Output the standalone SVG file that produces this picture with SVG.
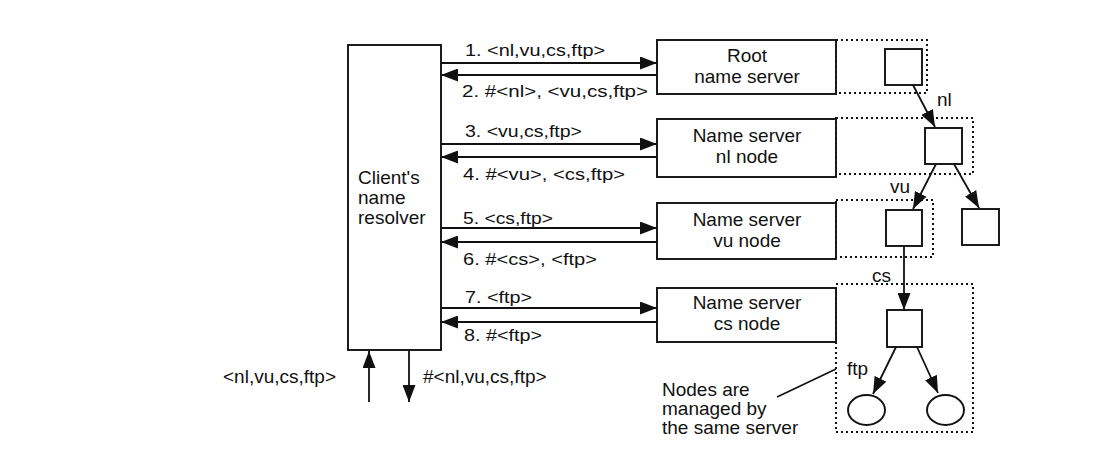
<svg xmlns="http://www.w3.org/2000/svg" width="1114" height="474" viewBox="0 0 1114 474">
<defs>
<style>
text{font-family:"Liberation Sans",Arial,sans-serif;fill:#111;}
.lbl{font-size:16.5px;}
.big{font-size:19px;}
.mid{text-anchor:middle;}
.box{fill:#fff;stroke:#111;stroke-width:1.9;}
.dot{fill:none;stroke:#111;stroke-width:2;stroke-dasharray:2 3;}
.ln{fill:none;stroke:#111;stroke-width:1.7;}
.arr{fill:none;stroke:#111;stroke-width:1.8;marker-end:url(#ah);}
</style>
<marker id="ah" viewBox="0 0 17 13" refX="17" refY="6.5" markerWidth="17" markerHeight="13" orient="auto" markerUnits="userSpaceOnUse">
<path d="M0,0 L17,6.5 L0,13 z" fill="#111"/>
</marker>
</defs>
<rect width="1114" height="474" fill="#fff"/>

<g id="client">
<rect class="box" x="348" y="45" width="93" height="305"/>
<text class="big" x="358" y="184">Client's</text>
<text class="big" x="358" y="204">name</text>
<text class="big" x="358" y="224">resolver</text>
</g>

<g id="root-server">
<rect class="dot" x="836" y="40" width="91" height="53"/>
<rect class="box" x="657" y="40" width="179" height="54"/>
<text class="big mid" x="747" y="62">Root</text>
<text class="big mid" x="747" y="83">name server</text>
<rect class="box" x="885" y="49" width="37" height="36"/>
</g>

<g id="nl-server">
<rect class="dot" x="836" y="118" width="137" height="56"/>
<rect class="box" x="657" y="119" width="179" height="58"/>
<text class="big mid" x="747" y="142">Name server</text>
<text class="big mid" x="747" y="163">nl node</text>
<rect class="box" x="925" y="128" width="37" height="36"/>
</g>

<g id="vu-server">
<rect class="dot" x="836" y="200" width="97" height="57"/>
<rect class="box" x="657" y="203" width="179" height="56"/>
<text class="big mid" x="747" y="226">Name server</text>
<text class="big mid" x="747" y="247">vu node</text>
<rect class="box" x="886" y="210" width="36" height="36"/>
</g>

<g id="other-node">
<rect class="box" x="962" y="209" width="37" height="36"/>
</g>

<g id="cs-server">
<rect class="dot" x="836" y="284" width="137" height="148"/>
<rect class="box" x="657" y="288" width="179" height="54"/>
<text class="big mid" x="747" y="309">Name server</text>
<text class="big mid" x="747" y="330">cs node</text>
<rect class="box" x="887" y="310" width="35" height="37"/>
<ellipse class="box" cx="866.5" cy="410" rx="18.5" ry="15"/>
<ellipse class="box" cx="945.5" cy="410" rx="18.5" ry="15"/>
</g>

<g id="note">
<text class="big" x="662" y="396">Nodes are</text>
<text class="big" x="662" y="415">managed by</text>
<text class="big" x="662" y="434">the same server</text>
<line class="ln" x1="777" y1="397" x2="836" y2="369"/>
</g>

<g id="connectors">
<line class="arr" x1="441" y1="63" x2="657" y2="63"/>
<line class="arr" x1="657" y1="75" x2="441" y2="75"/>
<line class="arr" x1="441" y1="144" x2="657" y2="144"/>
<line class="arr" x1="657" y1="157" x2="441" y2="157"/>
<line class="arr" x1="441" y1="228" x2="657" y2="228"/>
<line class="arr" x1="657" y1="242" x2="441" y2="242"/>
<line class="arr" x1="441" y1="308" x2="657" y2="308"/>
<line class="arr" x1="657" y1="322" x2="441" y2="322"/>
<line class="arr" x1="369" y1="402" x2="369" y2="351"/>
<line class="arr" x1="409" y1="350" x2="409" y2="402"/>
<line class="arr" x1="913" y1="85" x2="935" y2="127"/>
<line class="arr" x1="936" y1="164" x2="913" y2="209"/>
<line class="arr" x1="954" y1="164" x2="979" y2="208"/>
<line class="arr" x1="904" y1="246" x2="904" y2="310"/>
<line class="arr" x1="896" y1="347" x2="873" y2="394"/>
<line class="arr" x1="917" y1="347" x2="938" y2="393"/>
</g>

<g id="labels">
<text class="lbl" x="465" y="56" textLength="140" lengthAdjust="spacingAndGlyphs">1. &lt;nl,vu,cs,ftp&gt;</text>
<text class="lbl" x="462" y="97" textLength="186" lengthAdjust="spacingAndGlyphs">2. #&lt;nl&gt;, &lt;vu,cs,ftp&gt;</text>
<text class="lbl" x="465" y="137" textLength="117" lengthAdjust="spacingAndGlyphs">3. &lt;vu,cs,ftp&gt;</text>
<text class="lbl" x="463" y="180" textLength="162" lengthAdjust="spacingAndGlyphs">4. #&lt;vu&gt;, &lt;cs,ftp&gt;</text>
<text class="lbl" x="463" y="224" textLength="90" lengthAdjust="spacingAndGlyphs">5. &lt;cs,ftp&gt;</text>
<text class="lbl" x="463" y="265" textLength="134" lengthAdjust="spacingAndGlyphs">6. #&lt;cs&gt;, &lt;ftp&gt;</text>
<text class="lbl" x="465" y="303" textLength="67" lengthAdjust="spacingAndGlyphs">7. &lt;ftp&gt;</text>
<text class="lbl" x="464" y="341" textLength="78" lengthAdjust="spacingAndGlyphs">8. #&lt;ftp&gt;</text>
<text class="big" x="223" y="383">&lt;nl,vu,cs,ftp&gt;</text>
<text class="big" x="423" y="383">#&lt;nl,vu,cs,ftp&gt;</text>
<text class="big" x="937" y="106">nl</text>
<text class="big" x="890" y="193">vu</text>
<text class="big" x="872" y="282">cs</text>
<text class="big" x="847" y="375">ftp</text>
</g>
</svg>
